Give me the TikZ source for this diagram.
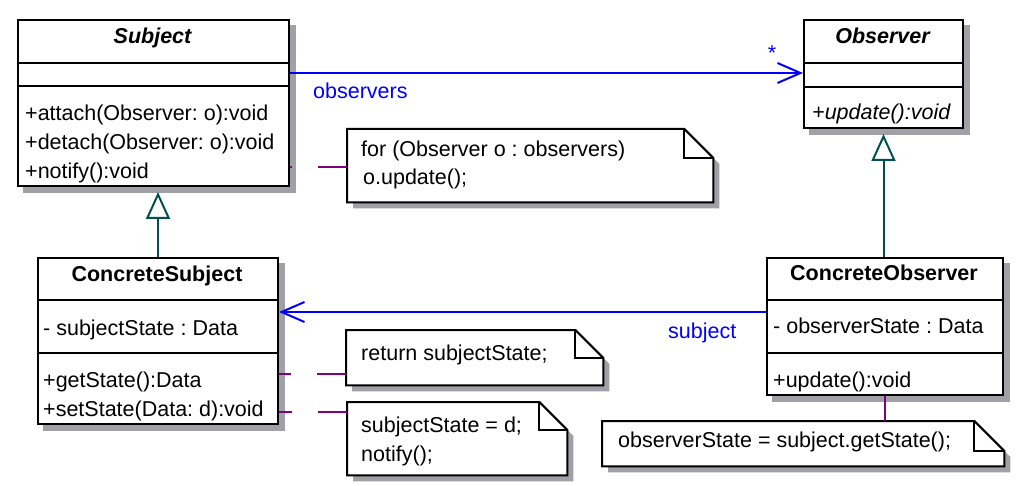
\documentclass[tikz,border=0pt]{standalone}
\usepackage{fontspec}
\setmainfont{Liberation Sans}
\usetikzlibrary{arrows.meta,calc,backgrounds}
\definecolor{assocc}{RGB}{0,0,255}
\definecolor{genc}{RGB}{0,80,80}
\definecolor{notec}{RGB}{128,0,128}
\definecolor{shadowc}{RGB}{160,160,166}
\newcommand\umlfont{\fontsize{21.5}{25}\selectfont}
\frenchspacing
\tikzset{
  comp/.style={draw, line width=2pt, fill=white, inner sep=0pt, anchor=north west},
  notebox/.style={inner sep=0pt, anchor=north west},
  notebord/.style={draw, line width=2pt, fill=white},
  txt/.style={anchor=base west, inner sep=0pt, font=\umlfont},
  ttl/.style={anchor=base, inner sep=0pt, font=\umlfont\bfseries},
  lbl/.style={anchor=base west, inner sep=0pt, font=\umlfont, text=assocc},
  assoc/.style={draw=assocc, line width=2pt, -{Straight Barb[length=23pt,width=20pt]}},
  gen/.style={draw=genc, line width=2pt, -{Triangle[open,length=27pt,width=24pt]}},
  notelink/.style={draw=notec, line width=2pt, dash pattern=on 29pt off 26pt},
}
\newcommand\drawnote[2]{%
  \begin{scope}[on background layer]
    \fill[shadowc] ($(#1.north west)+(6,6)$) -- ($(#1.north east)+(-#2,0)$) -- ($(#1.north east)+(6,#2+6)$) -- ($(#1.south east)+(6,6)$) -- ($(#1.south west)+(6,6)$) -- cycle;
  \end{scope}
  \draw[notebord] (#1.north west) -- ($(#1.north east)+(-#2,0)$) -- ($(#1.north east)+(0,#2)$) -- (#1.south east) -- (#1.south west) -- cycle;
  \draw[line width=2pt] ($(#1.north east)+(-#2,0)$) |- ($(#1.north east)+(0,#2)$);
}
\begin{document}
\frenchspacing
\begin{tikzpicture}[x=1pt,y=-1pt]
\useasboundingbox (0,0) rectangle (1027,486);

% Subject
\node[comp, minimum width=271pt, minimum height=43pt] (subjT) at (17,19) {};
\node[comp, minimum width=271pt, minimum height=23pt] (subjA) at (17,62) {};
\node[comp, minimum width=271pt, minimum height=100pt] (subjM) at (17,85) {};
% Observer
\node[comp, minimum width=159pt, minimum height=43pt] (obsT) at (803,19) {};
\node[comp, minimum width=159pt, minimum height=24pt] (obsA) at (803,62) {};
\node[comp, minimum width=159pt, minimum height=41pt] (obsM) at (803,86) {};
% ConcreteSubject
\node[comp, minimum width=240pt, minimum height=42pt] (csT) at (37,257) {};
\node[comp, minimum width=240pt, minimum height=53pt] (csA) at (37,299) {};
\node[comp, minimum width=240pt, minimum height=71pt] (csM) at (37,352) {};
% ConcreteObserver
\node[comp, minimum width=236pt, minimum height=42pt] (coT) at (766,257) {};
\node[comp, minimum width=236pt, minimum height=53pt] (coA) at (766,299) {};
\node[comp, minimum width=236pt, minimum height=42pt] (coM) at (766,352) {};

\begin{scope}[on background layer]
  \fill[shadowc] ($(subjT.north west)+(6,6)$) rectangle ($(subjM.south east)+(6,6)$);
  \fill[shadowc] ($(obsT.north west)+(6,6)$) rectangle ($(obsM.south east)+(6,6)$);
  \fill[shadowc] ($(csT.north west)+(6,6)$) rectangle ($(csM.south east)+(6,6)$);
  \fill[shadowc] ($(coT.north west)+(6,6)$) rectangle ($(coM.south east)+(6,6)$);
\end{scope}

% class texts
\node[ttl, font=\umlfont\bfseries\itshape] (tSubj) at (152.5,44) {Subject};
\node[txt] (tAtt) at (25,121) {+attach(Observer: o):void};
\node[txt] (tDet) at (25,150) {+detach(Observer: o):void};
\node[txt] (tNot) at (25,179) {+notify():void};
\node[ttl, font=\umlfont\bfseries\itshape] (tObs) at (882.5,44) {Observer};
\node[txt, font=\umlfont\itshape] (tUpd) at (812,120) {+update():void};
\node[ttl] (tCS) at (157,281) {ConcreteSubject};
\node[txt] (tSS) at (43,335) {- subjectState : Data};
\node[txt] (tGet) at (43,387) {+getState():Data};
\node[txt] (tSet) at (43,416) {+setState(Data: d):void};
\node[ttl] (tCO) at (884,280) {ConcreteObserver};
\node[txt] (tOS) at (773,333) {- observerState : Data};
\node[txt] (tUpd2) at (773,387) {+update():void};

% notes
\node[notebox, minimum width=366pt, minimum height=73pt] (n1) at (347,129) {};
\node[notebox, minimum width=257pt, minimum height=55pt] (n2) at (346,330) {};
\node[notebox, minimum width=220pt, minimum height=73pt] (n3) at (347,402) {};
\node[notebox, minimum width=402pt, minimum height=45pt] (n4) at (602,421) {};
\drawnote{n1}{29}
\drawnote{n2}{28}
\drawnote{n3}{28}
\drawnote{n4}{30}
\node[txt] (tn1a) at (361,157) {for (Observer o : observers)};
\node[txt] (tn1b) at (363,185) {o.update();};
\node[txt] (tn2) at (361,360) {return subjectState;};
\node[txt] (tn3a) at (361,432) {subjectState = d;};
\node[txt] (tn3b) at (361,461) {notify();};
\node[txt] (tn4) at (618,447) {observerState = subject.getState();};

% associations
\draw[assoc] ($(subjA.east)+(0,-1.5)$) -- ($(subjA.east -| obsA.west)+(0,-1.5)$);
\node[lbl, anchor=base] (lStar) at (772,61) {*};
\node[lbl] (lObs) at (313,99) {observers};
\draw[assoc] ($(coA.north west)+(0,13)$) -- ($(coA.north west -| csA.east)+(0,13)$);
\node[lbl] (lSub) at (668,338) {subject};

% generalizations
\draw[gen] (coT.north -| obsM.south) -- ($(obsM.south)+(0,5)$);
\draw[gen] (csT.north) -- ($(csT.north |- subjM.south)+(0,5)$);

% note links
\draw[notelink] ($(n1.north west)+(0,38)$) -- ($(n1.north west -| subjM.east)+(0,38)$);
\draw[notelink] ($(n2.north west)+(0,44)$) -- ($(n2.north west -| csM.east)+(0,44)$);
\draw[notelink] ($(n3.north west)+(0,10)$) -- ($(n3.north west -| csM.east)+(0,10)$);
\draw[notelink] (coM.south |- n4.north) -- (coM.south);
\end{tikzpicture}
\end{document}
